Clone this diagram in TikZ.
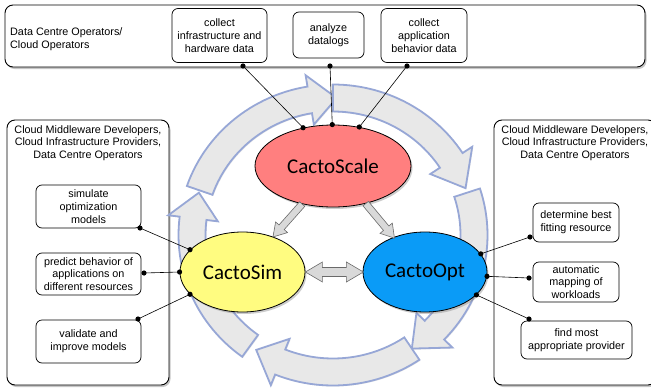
\documentclass[tikz,border=0pt]{standalone}
\usepackage{fontspec}
\setmainfont{Liberation Sans}
\newfontfamily\calibrifont{Carlito}
\usetikzlibrary{shapes.geometric,shadows}
\definecolor{ringfill}{HTML}{E8E8E8}
\definecolor{ringdraw}{HTML}{97A7D6}
\definecolor{scalecol}{HTML}{FF7F7F}
\definecolor{simcol}{HTML}{FFFC80}
\definecolor{optcol}{HTML}{0A9BF7}
\definecolor{fatfill}{HTML}{D9D9D9}
\definecolor{fatdraw}{HTML}{6A6A6A}
\newcommand\ringarrow[3]{%
  \filldraw[ring] plot[domain=#1:#3, samples=30] ({333+154.5*cos(\x)},{235+150.5*sin(\x)})
  -- ({333+166*cos(#3)},{235+162*sin(#3)})
  -- ({333+141*cos(#2)},{235+137*sin(#2)})
  -- ({333+116*cos(#3)},{235+112*sin(#3)})
  -- plot[domain=#3:#1, samples=30] ({333+127.5*cos(\x)},{235+123.5*sin(\x)})
  -- cycle;}
\begin{document}
\begin{tikzpicture}[x=1pt,y=-1pt,
  outerbox/.style={draw, line width=0.9pt, rounded corners=8pt, fill=white,
    drop shadow={shadow xshift=1.5pt, shadow yshift=-2pt, opacity=0.45}},
  itembox/.style={draw, line width=0.7pt, rounded corners=6pt, fill=white, align=center,
    font=\fontsize{10.8}{12.8}\selectfont, inner sep=0pt},
  grouplabel/.style={font=\fontsize{10.8}{12.5}\selectfont, inner sep=0pt},
  cacto/.style={ellipse, draw, line width=0.8pt, font=\calibrifont\fontsize{21}{24}\selectfont,
    inner sep=0pt, drop shadow={shadow xshift=1.5pt, shadow yshift=-2pt, opacity=0.4}},
  link/.style={line width=0.6pt},
  ring/.style={fill=ringfill, draw=ringdraw, line width=1.8pt, line join=miter,
    drop shadow={shadow xshift=1pt, shadow yshift=-1pt, opacity=0.2}},
  fat/.style={fill=fatfill, draw=fatdraw, line width=0.6pt, line join=miter}
]
\useasboundingbox (0,0) rectangle (651,391);

% group boxes
\node[outerbox, minimum width=640pt, minimum height=62pt] (topbox) at (325,36) {};
\node[outerbox, minimum width=162pt, minimum height=265pt] (leftbox) at (88,252.5) {};
\node[outerbox, minimum width=162pt, minimum height=265pt] (rightbox) at (575,252.5) {};

\node[grouplabel, anchor=west, align=left] (toplabel) at (10,39) {Data Centre Operators/\\Cloud Operators};
\node[grouplabel, align=center] (lefttitle) at (88,143) {Cloud Middleware Developers,\\Cloud Infrastructure Providers,\\Data Centre Operators};
\node[grouplabel, align=center] (righttitle) at (575,143) {Cloud Middleware Developers,\\Cloud Infrastructure Providers,\\Data Centre Operators};

% item boxes
\node[itembox, minimum width=95pt, minimum height=54pt] (t1) at (219.5,35.5) {collect\\infrastructure and\\hardware data};
\node[itembox, minimum width=71pt, minimum height=46pt] (t2) at (328.5,35) {analyze\\datalogs};
\node[itembox, minimum width=86pt, minimum height=54pt] (t3) at (424,35.5) {collect\\application\\behavior data};

\node[itembox, minimum width=105pt, minimum height=43pt] (l1) at (88.5,206.5) {simulate\\optimization\\models};
\node[itembox, minimum width=105pt, minimum height=42pt] (l2) at (88.5,274) {predict behavior of\\applications on\\different resources};
\node[itembox, minimum width=105pt, minimum height=43pt] (l3) at (88.5,341.5) {validate and\\improve models};

\node[itembox, minimum width=86pt, minimum height=39pt] (r1) at (576,222.5) {determine best\\fitting resource};
\node[itembox, minimum width=86pt, minimum height=40pt] (r2) at (576,282) {automatic\\mapping of\\workloads};
\node[itembox, minimum width=111pt, minimum height=38pt] (r3) at (576.5,340) {find most\\appropriate provider};

% ring of curved arrows
\ringarrow{199}{271.5}{260.5}
\ringarrow{270}{340}{327}
\ringarrow{342}{416}{404}
\ringarrow{56}{123}{112}
\ringarrow{126}{198}{187}

% main ellipses
\node[cacto, fill=scalecol, minimum width=156pt, minimum height=82pt] (scale) at (333,166) {CactoScale};
\node[cacto, fill=simcol, minimum width=125pt, minimum height=80pt] (sim) at (242.5,272) {CactoSim};
\node[cacto, fill=optcol, minimum width=124pt, minimum height=80pt] (opt) at (425,272) {CactoOpt};

% fat arrows between ellipses
\begin{scope}[shift={(scale.231)}, rotate=228.4]
  \draw[fat] (0,-3.5) -- (31,-3.5) -- (31,-8) -- (44,0) -- (31,8) -- (31,3.5) -- (0,3.5) -- cycle;
\end{scope}
\begin{scope}[shift={(scale.311)}, rotate=309.8]
  \draw[fat] (0,-3.5) -- (32,-3.5) -- (32,-8) -- (45,0) -- (32,8) -- (32,3.5) -- (0,3.5) -- cycle;
\end{scope}
\begin{scope}[shift={(sim.east)}]
  \draw[fat] (0,0) -- (17,-10) -- (17,-4.5) -- (41,-4.5) -- (41,-10) -- (58,0)
    -- (41,10) -- (41,4.5) -- (17,4.5) -- (17,10) -- cycle;
\end{scope}

% connector end points at the item boxes
\coordinate (t1d) at (243,66);
\coordinate (t2d) at (330,66);
\coordinate (t3d) at (407,66);
\coordinate (l1d) at (140,228);
\coordinate (l2d) at (144,273);
\coordinate (l3d) at (138,319);
\coordinate (r1d) at (530,237);
\coordinate (r2d) at (529,278);
\coordinate (r3d) at (529,319);

\foreach \a/\b in {t1d/scale.128, t2d/scale.91, t3d/scale.56,
                   l1d/sim.157, l2d/sim.180, l3d/sim.203,
                   r1d/opt.18, r2d/opt.356, r3d/opt.336} {
  \draw[link] (\a) -- (\b);
  \fill (\a) circle (2.6pt);
  \fill (\b) circle (2.6pt);
}
\end{tikzpicture}
\end{document}
